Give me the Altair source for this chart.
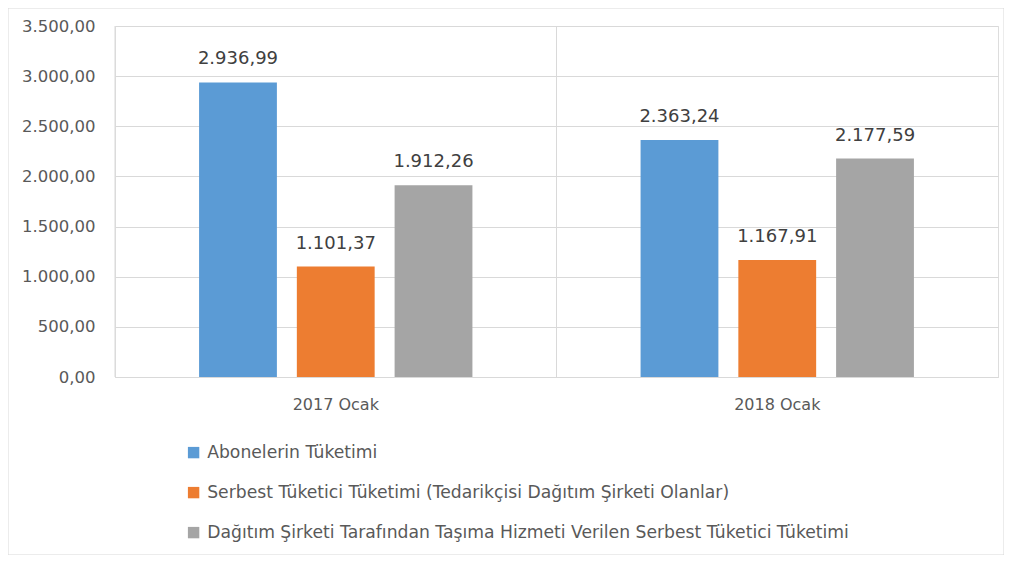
import altair as alt
import pandas as pd

categories = ["2017 Ocak", "2018 Ocak"]
series = [
    "Abonelerin Tüketimi",
    "Serbest Tüketici Tüketimi (Tedarikçisi Dağıtım Şirketi Olanlar)",
    "Dağıtım Şirketi Tarafından Taşıma Hizmeti Verilen Serbest Tüketici Tüketimi",
]
values_2017 = [2936.99, 1101.37, 1912.26]
values_2018 = [2363.24, 1167.91, 2177.59]
colors = ["#5B9BD5", "#ED7D31", "#A5A5A5"]
y_ticks = [0, 500, 1000, 1500, 2000, 2500, 3000, 3500]

rows = []
for cat, vals in zip(categories, [values_2017, values_2018]):
    for s, v in zip(series, vals):
        rows.append({"cat": cat, "series": s, "value": v})
df = pd.DataFrame(rows)
cat_df = pd.DataFrame({"cat": categories})
frame_df = pd.DataFrame({"k": [0]})

FONT = "DejaVu Sans"
GRID = "#d9d9d9"

x_enc = alt.X(
    "cat:N",
    scale=alt.Scale(domain=categories, paddingInner=0, paddingOuter=0),
    axis=alt.Axis(title=None, labelAngle=0, labelAlign="center", ticks=False,
                  domainColor=GRID, labelFontSize=16, labelColor="#595959",
                  labelFont=FONT, labelPadding=27, grid=False, bandPosition=0.5),
)
xoff_enc = alt.XOffset(
    "series:N",
    sort=series,
    scale=alt.Scale(domain=series, paddingInner=0.204, paddingOuter=0.86),
)
y_enc = alt.Y(
    "value:Q",
    scale=alt.Scale(domain=[0, 3500], nice=False),
    axis=alt.Axis(title=None, values=y_ticks, format=",.2f", gridColor=GRID,
                  domain=False, ticks=False, labelFontSize=16.5, labelColor="#595959",
                  labelFont=FONT, labelPadding=20),
)

bars = alt.Chart(df).mark_bar().encode(
    x=x_enc,
    xOffset=xoff_enc,
    y=y_enc,
    color=alt.Color(
        "series:N",
        sort=series,
        scale=alt.Scale(domain=series, range=colors),
        legend=alt.Legend(
            title=None, orient="none", legendX=70, legendY=418, direction="vertical",
            symbolType="square", symbolSize=130, symbolStrokeWidth=0,
            labelFontSize=17.2, labelColor="#595959", labelFont=FONT,
            rowPadding=22, labelLimit=900, labelOffset=5,
        ),
    ),
)

labels = alt.Chart(df).mark_text(
    baseline="bottom", dy=-14, fontSize=18, color="#404040", font=FONT
).encode(
    x=alt.X("cat:N"),
    xOffset=alt.XOffset("series:N", sort=series),
    y=alt.Y("value:Q"),
    text=alt.Text("value:Q", format=",.2f"),
)

vrules = alt.Chart(cat_df).mark_rule(color=GRID, strokeWidth=1).encode(
    x=alt.X("cat:N", bandPosition=0),
)

frame = alt.Chart(frame_df).mark_rect(fill=None, stroke=GRID, strokeWidth=1).encode(
    x=alt.value(-107), x2=alt.value(889), y=alt.value(-18), y2=alt.value(529)
)

chart = alt.layer(frame, vrules, bars, labels).properties(
    width=883,
    height=351,
    padding={"left": 107, "top": 18, "right": 6, "bottom": 178},
    autosize=alt.AutoSizeParams(type="none"),
).configure_view(stroke=GRID).configure(
    locale=alt.Locale(number=alt.NumberLocale(decimal=",", thousands=".", grouping=[3], currency=["", ""]))
)

chart.save("out.html", embed_options={"renderer": "svg", "actions": False})
